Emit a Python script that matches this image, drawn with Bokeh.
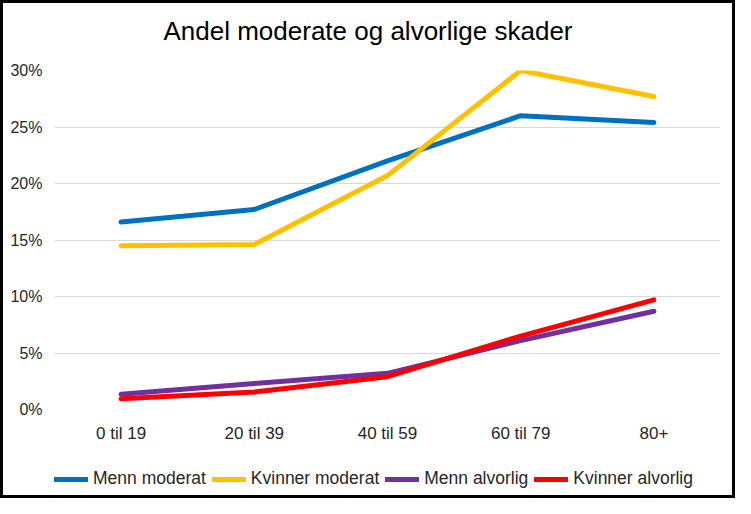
from bokeh.plotting import figure
from bokeh.layouts import column
from bokeh.models import (FactorRange, Range1d, FixedTicker, NumeralTickFormatter,
                          Legend, LegendItem, Label)
from bokeh.embed import file_html
from bokeh.resources import INLINE

categories = ["0 til 19", "20 til 39", "40 til 59", "60 til 79", "80+"]
menn_moderat = [0.166, 0.177, 0.220, 0.260, 0.254]
kvinner_moderat = [0.145, 0.146, 0.207, 0.300, 0.277]
menn_alvorlig = [0.0135, 0.023, 0.032, 0.061, 0.087]
kvinner_alvorlig = [0.0095, 0.0155, 0.029, 0.065, 0.097]
y_ticks = [0.0, 0.05, 0.10, 0.15, 0.20, 0.25, 0.30]
title_text = "Andel moderate og alvorlige skader"

series = [
    ("Menn moderat", menn_moderat, "#0070C0"),
    ("Kvinner moderat", kvinner_moderat, "#FFC000"),
    ("Menn alvorlig", menn_alvorlig, "#7030A0"),
    ("Kvinner alvorlig", kvinner_alvorlig, "#FF0000"),
]

FONT = "Liberation Sans"
W = 735


def bare_figure(height, x_range, y_range):
    f = figure(width=W, height=height, output_backend="svg", toolbar_location=None,
               x_range=x_range, y_range=y_range,
               x_axis_type=None, y_axis_type=None,
               min_border_left=0, min_border_right=0, min_border_top=0, min_border_bottom=0)
    f.grid.visible = False
    f.outline_line_color = None
    f.background_fill_alpha = 0
    f.border_fill_alpha = 0
    return f


# --- title strip ---
pt = bare_figure(60, Range1d(0, 1), Range1d(0, 1))
pt.add_layout(Label(x=0.4707, y=0.5, text=title_text, text_align="center",
                    text_baseline="middle", text_font=FONT, text_font_size="26px",
                    text_color="black"))

# --- main chart ---
p = figure(width=W, height=390, output_backend="svg", toolbar_location=None,
           x_range=FactorRange(*categories, range_padding=0),
           y_range=Range1d(0, 0.30),
           min_border_left=54, min_border_right=15, min_border_top=10, min_border_bottom=41)
p.background_fill_color = "white"
p.border_fill_alpha = 0
p.outline_line_color = None

for name, vals, col in series:
    p.line(categories, vals, line_color=col, line_width=5,
           line_cap="round", line_join="round")

p.xgrid.grid_line_color = None
p.ygrid.grid_line_color = "#D9D9D9"
p.ygrid.grid_line_width = 1
p.yaxis.ticker = FixedTicker(ticks=y_ticks)
p.yaxis.formatter = NumeralTickFormatter(format="0%")

for ax in (p.xaxis[0], p.yaxis[0]):
    ax.axis_line_color = None
    ax.major_tick_line_color = None
    ax.minor_tick_line_color = None
    ax.major_tick_out = 0
    ax.major_tick_in = 0
    ax.major_label_text_font = FONT
    ax.major_label_text_color = "#262626"
p.yaxis.major_label_text_font_size = "16px"
p.yaxis.major_label_standoff = 12
p.xaxis.major_label_text_font_size = "17px"
p.xaxis.major_label_standoff = 14

# --- legend strip (series drawn outside its visible y-range; only the legend shows) ---
pl = bare_figure(48, FactorRange(*categories, range_padding=0), Range1d(1, 2))
items = []
for name, vals, col in series:
    r = pl.line(categories, vals, line_color=col, line_width=5, line_cap="round")
    items.append(LegendItem(label=name, renderers=[r]))
legend = Legend(items=items, orientation="horizontal", location=(0, 9),
                glyph_width=34, glyph_height=20, label_standoff=5, spacing=6,
                padding=4, margin=0,
                label_text_font=FONT, label_text_font_size="17.5px",
                label_text_color="#262626",
                border_line_color=None, background_fill_alpha=0)
pl.add_layout(legend)

layout = column(pt, p, pl, spacing=0,
                styles={"box-shadow": "inset 0 0 0 3px black", "background-color": "white"})

open("out.html", "w").write(file_html(layout, INLINE))
